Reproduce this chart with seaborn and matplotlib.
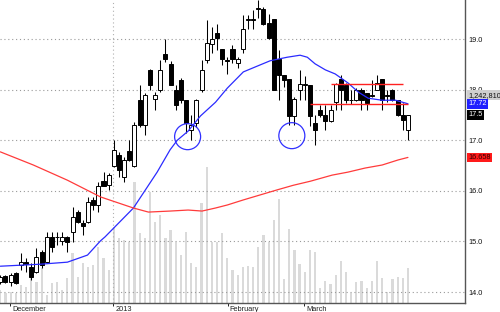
import numpy as np
import pandas as pd
import matplotlib
matplotlib.use("Agg")
import matplotlib.pyplot as plt
import matplotlib.transforms as mtransforms
from matplotlib.patches import Ellipse
import seaborn as sns

# ---------------- data ----------------
opens = [14.20, 14.32, 14.20, 14.38, 14.53, 14.59, 14.49, 14.40, 14.79, 14.59,
         15.09, 15.09, 15.01, 15.09, 15.19, 15.58, 15.36, 15.38, 15.82, 15.72,
         16.19, 16.11, 16.49, 16.71, 16.27, 16.79, 16.49, 17.79, 17.30, 18.39,
         17.81, 17.99, 18.70, 18.51, 17.99, 18.19, 17.79, 17.20, 17.34, 17.99,
         18.58, 18.90, 19.12, 18.80, 18.58, 18.80, 18.53, 18.80, 19.38, 19.40,
         19.60, 19.59, 19.32, 19.40, 18.60, 18.29, 18.21, 17.48, 17.99, 18.09,
         18.09, 17.34, 17.60, 17.50, 17.38, 17.75, 18.21, 18.09, 17.80, 17.79,
         17.99, 17.93, 17.89, 17.99, 18.21, 17.89, 17.99, 17.79, 17.50, 17.20]
highs = [14.34, 14.34, 14.38, 14.40, 14.77, 14.67, 14.57, 14.87, 14.83, 15.19,
         15.19, 15.19, 15.19, 15.10, 15.68, 15.62, 15.42, 15.88, 15.88, 16.17,
         16.37, 16.35, 17.00, 16.77, 16.67, 17.00, 17.36, 18.09, 17.93, 18.40,
         17.95, 18.58, 19.00, 18.57, 18.09, 18.23, 17.80, 17.50, 17.81, 18.58,
         19.38, 19.24, 19.30, 18.81, 18.64, 18.88, 18.64, 19.47, 19.47, 19.57,
         19.77, 19.63, 19.49, 19.40, 18.78, 18.29, 18.21, 17.85, 18.39, 18.27,
         18.10, 17.50, 17.70, 17.70, 17.70, 18.13, 18.29, 18.13, 17.99, 18.03,
         18.03, 17.93, 18.19, 18.29, 18.21, 17.99, 18.01, 17.80, 17.74, 17.50]
lows = [14.16, 14.18, 14.12, 14.16, 14.43, 14.40, 14.24, 14.38, 14.47, 14.57,
        14.79, 14.93, 14.93, 14.79, 14.99, 15.36, 15.13, 15.36, 15.62, 15.58,
        16.09, 16.01, 16.47, 16.27, 16.17, 16.59, 16.47, 17.26, 17.10, 17.99,
        17.60, 17.95, 18.55, 18.09, 17.60, 17.74, 17.14, 17.00, 17.26, 17.95,
        18.53, 18.72, 18.78, 18.49, 18.31, 18.53, 18.43, 18.72, 19.20, 19.20,
        19.42, 19.28, 19.00, 17.99, 17.79, 18.05, 17.30, 17.30, 17.79, 17.79,
        17.28, 16.91, 17.46, 17.20, 17.36, 17.60, 17.60, 17.74, 17.72, 17.77,
        17.60, 17.60, 17.85, 17.99, 17.60, 17.75, 17.77, 17.48, 17.20, 17.00]
closes = [14.30, 14.20, 14.34, 14.18, 14.59, 14.55, 14.30, 14.69, 14.53, 15.09,
          14.89, 15.08, 15.09, 14.99, 15.48, 15.38, 15.30, 15.78, 15.72, 16.09,
          16.10, 16.31, 16.81, 16.41, 16.61, 16.61, 17.30, 17.30, 17.89, 18.09,
          17.89, 18.39, 18.60, 18.09, 17.70, 17.79, 17.34, 17.30, 17.79, 18.39,
          18.92, 19.00, 19.02, 18.60, 18.57, 18.60, 18.60, 19.20, 19.40, 19.38,
          19.61, 19.30, 19.02, 17.99, 18.29, 18.19, 17.48, 17.81, 18.11, 18.10,
          17.48, 17.20, 17.50, 17.38, 17.60, 18.11, 17.99, 17.79, 17.79, 17.99,
          17.79, 17.74, 17.88, 18.13, 17.79, 17.88, 17.79, 17.50, 17.40, 17.50]
volumes = [0.46, 0.35, 0.39, 0.35, 0.64, 0.57, 0.89, 0.74, 1.24, 0.28,
           0.71, 0.74, 0.46, 0.89, 1.77, 0.92, 1.42, 1.28, 1.35, 1.99,
           1.60, 1.17, 2.70, 2.30, 2.23, 2.16, 4.29, 2.48, 2.30, 3.94,
           2.87, 3.12, 2.30, 2.59, 2.16, 1.70, 2.52, 1.42, 1.28, 3.55,
           4.82, 2.16, 2.16, 2.48, 1.60, 1.17, 0.99, 1.28, 1.31, 1.28,
           1.99, 2.41, 2.16, 2.94, 3.69, 0.85, 2.62, 1.88, 1.38, 1.10,
           1.88, 1.81, 0.53, 0.78, 0.67, 0.99, 1.49, 1.10, 0.35, 0.74,
           0.78, 0.53, 0.78, 1.49, 0.89, 0.39, 0.85, 0.92, 0.89, 1.24]

ma_fast_x = [0, 7.8, 13.0, 16.9, 19.4, 20.3, 25.8, 30.4, 32.9, 34.3, 36.4, 38.8,
             41.7, 44.0, 47.1, 50.4, 52.3, 55.6, 58.1, 59.5, 61.0, 63.0, 64.9,
             67.4, 69.4, 71.3, 74.0, 76.6, 79.0]
ma_fast = [14.51, 14.55, 14.59, 14.73, 15.01, 15.09, 15.66, 16.37, 16.81, 17.00,
           17.18, 17.48, 17.75, 18.03, 18.35, 18.49, 18.57, 18.64, 18.68, 18.64,
           18.51, 18.39, 18.31, 18.13, 17.95, 17.83, 17.79, 17.79, 17.72]
ma_slow_x = [0, 6.4, 13.0, 19.4, 25.8, 28.7, 32.9, 36.4, 39.1, 41.7, 44.0, 47.1,
             50.4, 53.7, 56.8, 60.1, 64.3, 67.4, 70.7, 74.0, 77.1, 79.0]
ma_slow = [16.77, 16.51, 16.21, 15.88, 15.66, 15.58, 15.60, 15.62, 15.60, 15.66,
           15.72, 15.82, 15.92, 16.02, 16.11, 16.19, 16.31, 16.37, 16.45, 16.51,
           16.61, 16.66]

month_labels = ["December", "2013", "February", "March"]
month_pos = [1.9, 21.9, 44.1, 58.9]
price_ticks = [14.0, 15.0, 16.0, 17.0, 18.0, 19.0]

last_volume_label = "1,242,810"
fast_label = "17.72"
close_label = "17.5"
slow_label = "16.658"

# resistance / support lines and highlighted lows
res_line = (64.1, 78.1, 18.11)
sup_line = (60.1, 79.1, 17.72)
circles = [(36.3, 17.07), (56.5, 17.09)]

# ---------------- plot ----------------
sns.set_theme(style="white")
plt.rcParams['font.family'] = ['Liberation Sans', 'DejaVu Sans']

df = pd.DataFrame({"open": opens, "high": highs, "low": lows,
                   "close": closes, "volume": volumes})
df["idx"] = np.arange(len(df))
df["up"] = df["close"] >= df["open"]

W, H = 500, 312
fig = plt.figure(figsize=(W / 100, H / 100), dpi=100)
ax_w_px, ax_h_px = 465, 303
ax = fig.add_axes([0, 9 / H, ax_w_px / W, ax_h_px / H])
ax2 = ax.twinx()
ax.set_zorder(2)
ax2.set_zorder(1)
ax.patch.set_visible(False)

xmin, xmax = -0.06, 90.06
ymin, ymax = 13.783, 19.771
ax.set_xlim(xmin, xmax)
ax.set_ylim(ymin, ymax)

# volume bars
ax2.bar(df["idx"], df["volume"], width=0.42, color="#dadada", linewidth=0)
ax2.set_ylim(0, 10.74)
ax2.set_yticks([])
for s in ax2.spines.values():
    s.set_visible(False)

# grid
for p in price_ticks:
    ax.axhline(p, color="#9a9a9a", lw=0.8, ls=(0, (1, 2.5)), zorder=1)
ax.axvline(month_pos[1], color="#b0b0b0", lw=0.8, ls=(0, (1, 2.5)), zorder=1)

# candles
ax.vlines(df["idx"], df["low"], df["high"], color="black", lw=0.75, zorder=3)
body_bottom = np.minimum(df["open"], df["close"])
body_h = np.maximum((df["close"] - df["open"]).abs(), 0.012)
ax.bar(df["idx"], body_h, bottom=body_bottom, width=0.78,
       color=np.where(df["up"], "white", "black"), edgecolor="black",
       linewidth=0.7, zorder=4)

# moving averages
sns.lineplot(x=ma_fast_x, y=ma_fast, ax=ax, color="#2b2bff", lw=0.9, zorder=5)
sns.lineplot(x=ma_slow_x, y=ma_slow, ax=ax, color="#ff3b3b", lw=0.9, zorder=5)

# horizontal red lines
for x0, x1, yv in (res_line, sup_line):
    ax.hlines(yv, x0, x1, color="#ff2020", lw=1.0, zorder=6)

# circles
px_x = ax_w_px / (xmax - xmin)
px_y = ax_h_px / (ymax - ymin)
for cx, cy in circles:
    ax.add_patch(Ellipse((cx, cy), 26 / px_x, 26 / px_y, fill=False,
                         edgecolor="#3030ff", lw=0.9, zorder=7))

# axes styling
for side in ("top", "left"):
    ax.spines[side].set_visible(False)
for side in ("right", "bottom"):
    ax.spines[side].set_color("#555555")
    ax.spines[side].set_linewidth(1.0)

ax.yaxis.tick_right()
ax.set_yticks(price_ticks)
ax.set_yticklabels([f"{p:.1f}" for p in price_ticks])
ax.tick_params(axis="y", length=0, pad=2.2, labelsize=5.3, colors="#111111")

ax.set_xticks(month_pos)
ax.set_xticklabels(month_labels)
ax.tick_params(axis="x", direction="out", length=2.2, width=0.7, pad=0.3,
               labelsize=5.3, colors="#222222", bottom=True)
offset = mtransforms.ScaledTranslation(2 / 100, 0, fig.dpi_scale_trans)
for lbl in ax.get_xticklabels():
    lbl.set_ha("left")
    lbl.set_transform(lbl.get_transform() + offset)
ax.set_xlabel("")
ax.set_ylabel("")
ax2.set_ylabel("")

# colored value boxes on the right axis
def tag(price, text, bg, fg):
    ax.annotate(text, xy=(1, price), xycoords=("axes fraction", "data"),
                xytext=(2.2, 0), textcoords="offset points", ha="left",
                va="center", fontsize=5.3, color=fg, annotation_clip=False,
                bbox=dict(boxstyle="square,pad=0.2", fc=bg, ec="none"),
                zorder=10)

tag(17.89, last_volume_label, "#cfcfcf", "#111111")
tag(17.72, fast_label, "#2020ff", "white")
tag(17.50, close_label, "black", "white")
tag(16.658, slow_label, "#ff1a1a", "#330000")

fig.savefig("out.png", dpi=100)
